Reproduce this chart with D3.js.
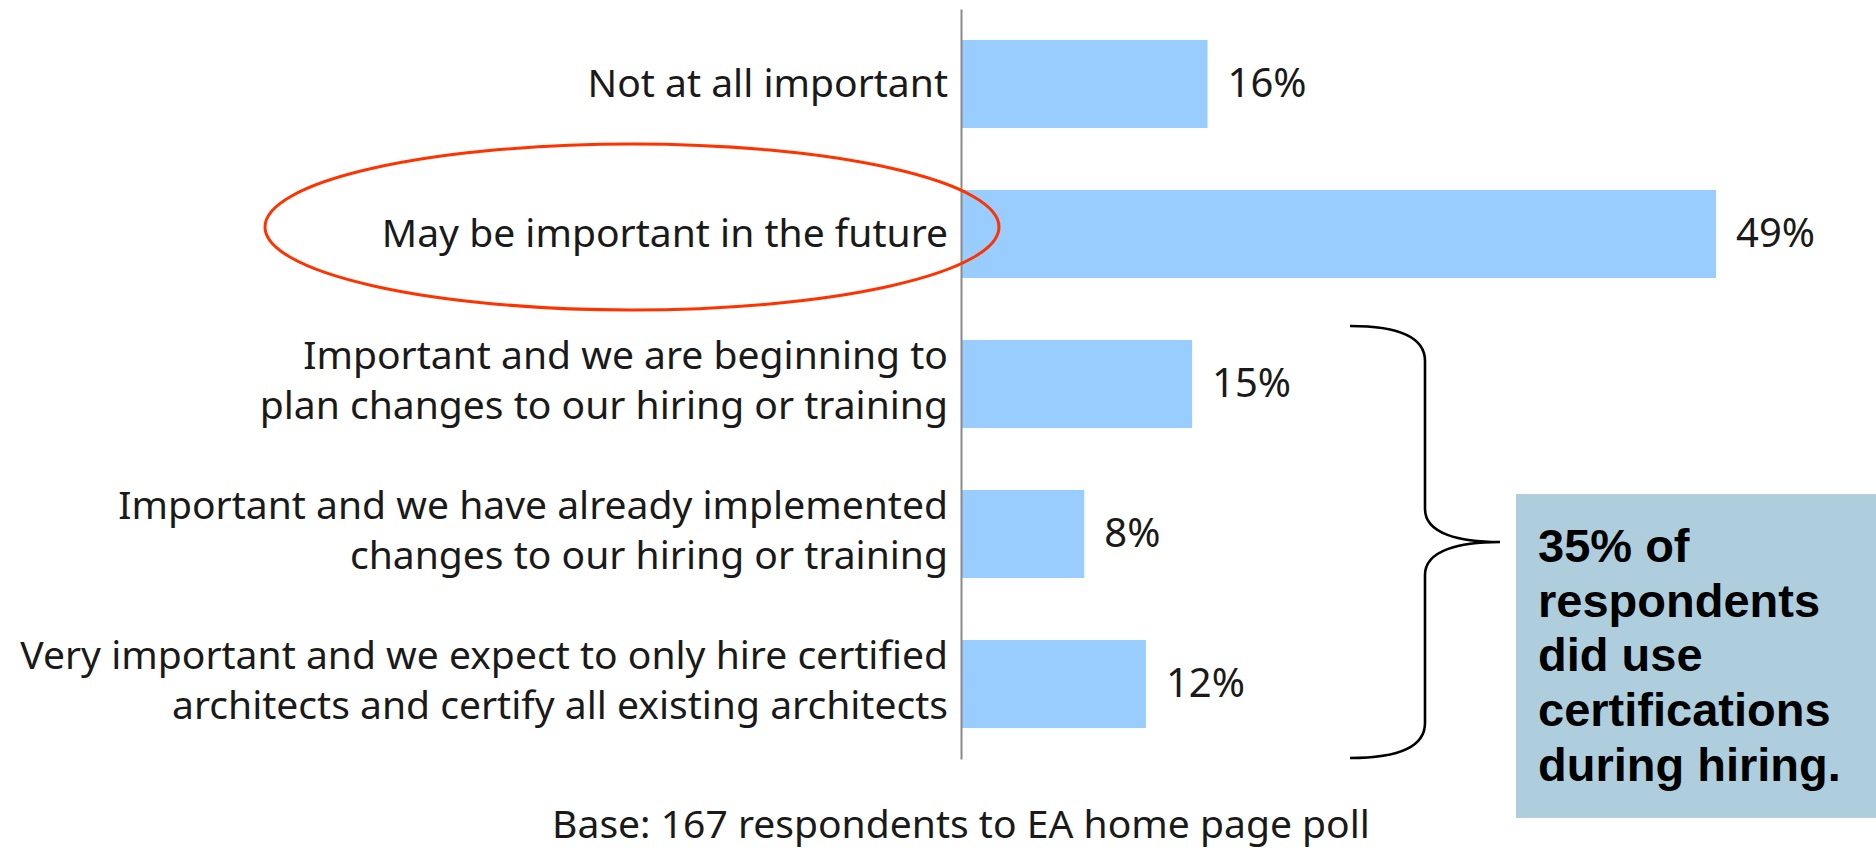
<!DOCTYPE html>
<html>
<head>
<meta charset="utf-8">
<script src="https://cdn.jsdelivr.net/npm/d3@7"></script>
<style>
  html, body { margin: 0; padding: 0; background: #ffffff; }
  svg { display: block; }
</style>
</head>
<body>
<div id="chart"></div>
<script>
// ---------------- data ----------------
const categories = [
  "Not at all important",
  "May be important in the future",
  "Important and we are beginning to|plan changes to our hiring or training",
  "Important and we have already implemented|changes to our hiring or training",
  "Very important and we expect to only hire certified|architects and certify all existing architects"
];
const values = [16, 49, 15, 8, 12];
const valueLabels = values.map(v => v + "%");
const footnote = "Base: 167 respondents to EA home page poll";
const calloutLines = ["35% of", "respondents", "did use", "certifications", "during hiring."];
const highlightedIndex = 1;
const bracketRange = [2, 4];

// ---------------- layout ----------------
const W = 1876, H = 851;
const labelFont = "'Noto Sans', 'Open Sans', sans-serif";

const svg = d3.select("#chart").append("svg")
  .attr("width", W).attr("height", H)
  .attr("viewBox", `0 0 ${W} ${H}`);

const x = d3.scaleLinear().domain([0, 49]).range([961, 1716]);
const y = d3.scaleBand()
  .domain(d3.range(categories.length))
  .range([9, 759])
  .paddingInner(0.4133)
  .paddingOuter(0.2067);

// fit label font size to the reference widths
function fitSize(text, target, base) {
  const t = svg.append("text").attr("font-family", labelFont).attr("font-size", base).text(text);
  const w = t.node().getComputedTextLength();
  t.remove();
  const s = base * target / w;
  return Math.max(32, Math.min(48, s));
}
const catSize = fitSize("Very important and we expect to only hire certified", 928, 40);
const footSize = fitSize(footnote, 818, 40);

// bars
svg.append("g").selectAll("rect")
  .data(values)
  .join("rect")
  .attr("x", x(0))
  .attr("y", (d, i) => y(i))
  .attr("width", d => x(d) - x(0))
  .attr("height", y.bandwidth())
  .attr("fill", "#99ccff");

// axis line (domain only)
const axisG = svg.append("g")
  .attr("transform", `translate(${x(0)},0)`)
  .call(d3.axisLeft(y).tickSize(0).tickSizeOuter(0).tickFormat(""));
axisG.select(".domain").attr("stroke", "#8a8a8a").attr("stroke-width", 2);

// category labels
const catG = svg.append("g")
  .attr("font-family", labelFont)
  .attr("font-size", catSize)
  .attr("fill", "#1a1a1a")
  .attr("text-anchor", "end");

categories.forEach((c, i) => {
  const lines = c.split("|");
  const cy = y(i) + y.bandwidth() / 2;
  const t = catG.append("text").attr("x", x(0) - 13);
  if (lines.length === 1) {
    t.append("tspan").attr("x", x(0) - 13).attr("y", cy + 13).text(lines[0]);
  } else {
    lines.forEach((l, j) => {
      t.append("tspan").attr("x", x(0) - 13).attr("y", cy - 15 + j * 50).text(l);
    });
  }
});

// value labels
svg.append("g")
  .attr("font-family", labelFont)
  .attr("font-size", 40)
  .attr("fill", "#1a1a1a")
  .selectAll("text")
  .data(values)
  .join("text")
  .attr("x", d => x(d) + 20)
  .attr("y", (d, i) => y(i) + y.bandwidth() / 2 + 13)
  .text((d, i) => valueLabels[i]);

// highlight ellipse
const hy = y(highlightedIndex) + y.bandwidth() / 2;
svg.append("ellipse")
  .attr("cx", 632).attr("cy", hy - 7)
  .attr("rx", 367).attr("ry", 83)
  .attr("fill", "none")
  .attr("stroke", "#ff3300")
  .attr("stroke-width", 3);

// bracket
const bTop = y(bracketRange[0]) - 14;
const bBot = y(bracketRange[1]) + y.bandwidth() + 30;
const bMid = (bTop + bBot) / 2;
const bx0 = 1350, bx1 = 1425, bx2 = 1500;
const p = d3.path();
p.moveTo(bx0, bTop);
p.bezierCurveTo(bx0 + 52, bTop, bx1, bTop + 13, bx1, bTop + 35);
p.lineTo(bx1, bMid - 33);
p.bezierCurveTo(bx1, bMid - 8, bx1 + 35, bMid, bx2, bMid);
p.bezierCurveTo(bx1 + 35, bMid, bx1, bMid + 8, bx1, bMid + 33);
p.lineTo(bx1, bBot - 35);
p.bezierCurveTo(bx1, bBot - 13, bx0 + 52, bBot, bx0, bBot);
svg.append("path")
  .attr("d", p.toString())
  .attr("fill", "none")
  .attr("stroke", "#000")
  .attr("stroke-width", 2.6);

// callout box
svg.append("rect")
  .attr("x", 1516).attr("y", 494)
  .attr("width", W - 1516).attr("height", 324)
  .attr("fill", "#afcedd");
svg.append("g")
  .attr("font-family", "'Liberation Sans', Arial, sans-serif")
  .attr("font-weight", "bold")
  .attr("font-size", 47)
  .attr("fill", "#000")
  .selectAll("text")
  .data(calloutLines)
  .join("text")
  .attr("x", 1538)
  .attr("y", (d, i) => 562 + i * 54.7)
  .text(d => d);

// footnote
svg.append("text")
  .attr("x", x(0))
  .attr("y", 838)
  .attr("text-anchor", "middle")
  .attr("font-family", labelFont)
  .attr("font-size", footSize)
  .attr("fill", "#1a1a1a")
  .text(footnote);
</script>
</body>
</html>
